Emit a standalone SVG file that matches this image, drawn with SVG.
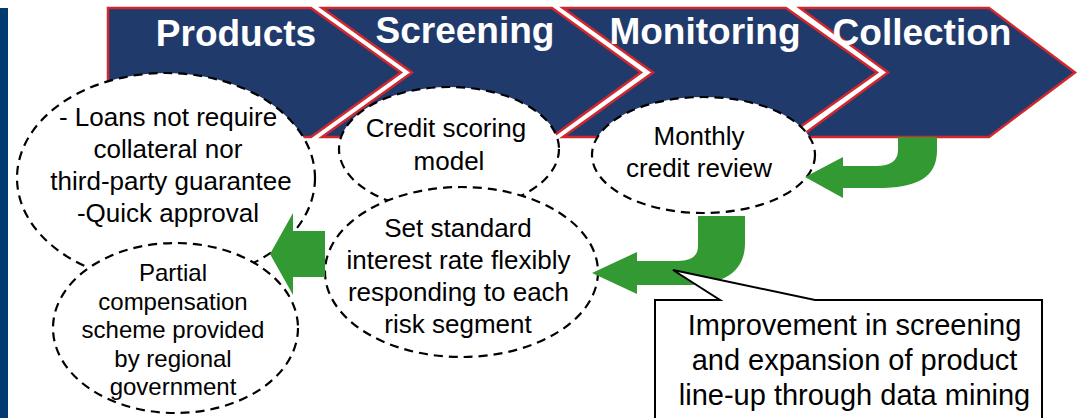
<svg xmlns="http://www.w3.org/2000/svg" width="1084" height="418" viewBox="0 0 1084 418">
  <style>
    .chev { fill: #213a6c; stroke: #d0282e; stroke-width: 2.5; stroke-linejoin: miter; }
    .title { font-family: "Liberation Sans", Arial, sans-serif; font-weight: bold; font-size: 37px; fill: #ffffff; text-anchor: middle; }
    .bubble { fill: #ffffff; stroke: #000000; stroke-width: 2.2; stroke-dasharray: 9 6; }
    .label { font-family: "Liberation Sans", Arial, sans-serif; font-size: 26px; fill: #000000; text-anchor: middle; }
    .small { font-size: 24px; }
    .flow { fill: #339933; stroke: none; }
    .note { fill: #ffffff; stroke: #000000; stroke-width: 2; stroke-linejoin: miter; }
    .noteText { font-family: "Liberation Sans", Arial, sans-serif; font-size: 29px; fill: #000000; text-anchor: middle; }
  </style>

  <rect width="1084" height="418" fill="#ffffff"/>
  <!-- side accent bar -->
  <rect x="0" y="8" width="8" height="410" fill="#003a6e"/>

  <!-- process stages -->
  <g id="stage-products">
    <polygon class="chev" points="108,8 311,8 401,72.5 311,137 108,137"/>
    <text class="title" x="236" y="46">Products</text>
  </g>
  <g id="stage-screening">
    <polygon class="chev" points="322,8 552,8 641,72.5 552,137 322,137 412,72.5"/>
    <text class="title" x="465" y="43">Screening</text>
  </g>
  <g id="stage-monitoring">
    <polygon class="chev" points="563,8 786,8 877,72.5 786,137 563,137 653,72.5"/>
    <text class="title" x="705" y="44">Monitoring</text>
  </g>
  <g id="stage-collection">
    <polygon class="chev" points="800,8 989,8 1075,72.5 989,137 800,137 888,72.5"/>
    <text class="title" x="922" y="45">Collection</text>
  </g>

  <!-- measures -->
  <g id="bubble-loans">
    <ellipse class="bubble" cx="166" cy="178" rx="149" ry="105"/>
    <text class="label" x="168" y="126">- Loans not require</text>
    <text class="label" x="168" y="158">collateral nor</text>
    <text class="label" x="171" y="190">third-party guarantee</text>
    <text class="label" x="168" y="222">-Quick approval</text>
  </g>
  <g id="bubble-compensation">
    <ellipse class="bubble" cx="175.5" cy="328" rx="122.5" ry="85"/>
    <text class="label small" x="173" y="281">Partial</text>
    <text class="label small" x="173" y="309.5">compensation</text>
    <text class="label small" x="173" y="338">scheme provided</text>
    <text class="label small" x="173" y="366.5">by regional</text>
    <text class="label small" x="173" y="395">government</text>
  </g>
  <g id="bubble-scoring">
    <ellipse class="bubble" cx="449" cy="149" rx="110" ry="62"/>
    <text class="label" x="446" y="137">Credit scoring</text>
    <text class="label" x="449" y="170">model</text>
  </g>
  <g id="bubble-rate">
    <ellipse class="bubble" cx="461.5" cy="272" rx="136.5" ry="85"/>
    <text class="label" x="458" y="237">Set standard</text>
    <text class="label" x="458.5" y="269">interest rate flexibly</text>
    <text class="label" x="458.5" y="301">responding to each</text>
    <text class="label" x="458" y="333">risk segment</text>
  </g>
  <g id="bubble-review">
    <ellipse class="bubble" cx="703.5" cy="155" rx="111.5" ry="58"/>
    <text class="label" x="699" y="145">Monthly</text>
    <text class="label" x="699" y="177">credit review</text>
  </g>

  <!-- feedback arrows -->
  <g id="connectors">
    <path class="flow" d="M898,137 L937,137 L937,150 C937,178 917,188 877,188 L843,188 L843,198 L805,177 L843,157 L843,166 L876,166 Q898,166 898,150 Z"/>
    <path class="flow" d="M698,216 L745,216 L745,243 C745,272 724,285 685,285 L637,285 L637,294 L592,273 L637,252 L637,261 L678,261 Q698,261 698,246 Z"/>
    <path class="flow" d="M325,231 L293,231 L293,213 L270,254 L293,295 L293,277 L325,277 Z"/>
  </g>

  <!-- callout -->
  <g id="callout-datamining">
    <path class="note" d="M655,300 L720,300 L673,270 L815,300 L1042,300 L1042,420 L655,420 Z"/>
    <text class="noteText" x="854.5" y="335">Improvement in screening</text>
    <text class="noteText" x="854.5" y="370">and expansion of product</text>
    <text class="noteText" x="854.5" y="405">line-up through data mining</text>
  </g>
</svg>
